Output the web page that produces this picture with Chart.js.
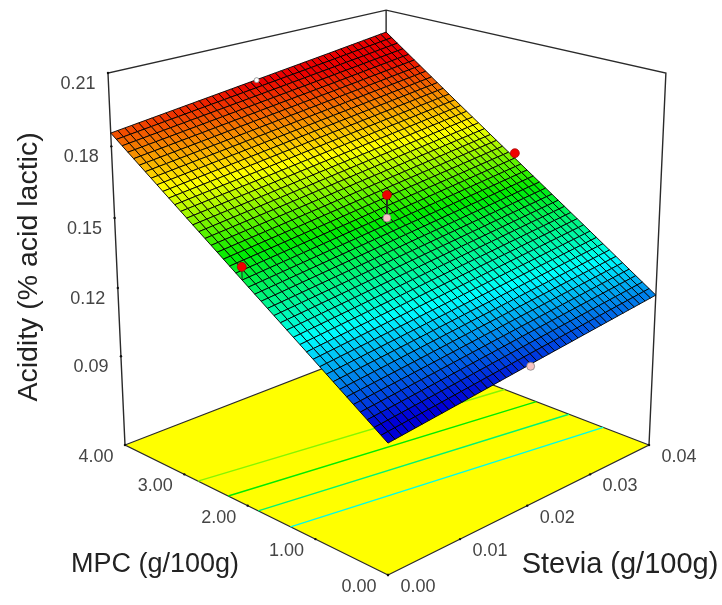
<!DOCTYPE html>
<html>
<head>
<meta charset="utf-8">
<title>Acidity response surface</title>
<style>
    html, body { margin: 0; padding: 0; background: #fff; }
    #surfaceChart { display: block; }
</style>
<script src="https://cdn.jsdelivr.net/npm/chart.js@4/dist/chart.umd.min.js"></script>
</head>
<body>
<canvas id="surfaceChart" width="722" height="605"></canvas>
<script>
// axis ticks
const steviaTicks = [0, 0.01, 0.02, 0.03, 0.04];
const mpcTicks = [0, 1, 2, 3, 4];
const acidityTicks = [0.09, 0.12, 0.15, 0.18, 0.21];

// acidity, one row per MPC tick, one value per stevia tick
const acidityAtMpc0 = [0.1028, 0.1063, 0.1099, 0.1134, 0.1169];
const acidityAtMpc1 = [0.1235, 0.1270, 0.1306, 0.1341, 0.1376];
const acidityAtMpc2 = [0.1441, 0.1476, 0.1512, 0.1547, 0.1582];
const acidityAtMpc3 = [0.1648, 0.1683, 0.1719, 0.1754, 0.1789];
const acidityAtMpc4 = [0.1855, 0.1891, 0.1927, 0.1963, 0.2000];
const acidityRows = [acidityAtMpc0, acidityAtMpc1, acidityAtMpc2, acidityAtMpc3, acidityAtMpc4];

// design points
const designStevia = [0.02, 0.04, 0.00, 0.02, 0.02, 0.02];
const designMpc = [2, 2, 2, 2, 0, 4];
const designAcidity = [0.1597, 0.1604, 0.1494, 0.1500, 0.1090, 0.1925];

// contours on the floor, MPC where each one meets stevia 0 and stevia 0.04
const contourLevels = [0.16, 0.15, 0.14, 0.13];
const contourMpcAtStevia0 = [2.78, 2.30, 1.84, 1.36];
const contourMpcAtStevia4 = [2.08, 1.60, 1.12, 0.63];

// colour ramp of the surface
const rampAcidity = [0.1065, 0.128, 0.150, 0.169, 0.192];
const rampColors = [[0, 0, 215], [0, 255, 255], [0, 235, 0], [255, 255, 0], [235, 0, 0]];

const zFloor = 0.05;
const zTop = 0.21;
const facetsPerTick = 11; // drawing subdivision of the 5x5 table above, not extra readings

// camera: where the box corners land on the page
const view = {
    front: [388, 575], right: [649, 445], left: [125, 445], up: [388, 155.3],
    a: 0.1436, c: -0.0695
};

function project(stevia, mpc, z) {
    let u = stevia / 0.04,
        v = mpc / 4,
        w = (z - zFloor) / (zTop - zFloor),
        h = 1 + view.a * (u + v) + view.c * w;

    function axis(i) {
        let o = view.front[i];
        return (o + (view.right[i] * (1 + view.a) - o) * u
            + (view.left[i] * (1 + view.a) - o) * v
            + (view.up[i] * (1 + view.c) - o) * w) / h;
    }

    return {x: axis(0), y: axis(1)};
}

function surfaceZ(stevia, mpc) {
    let fs = stevia / 0.01,
        fm = mpc,
        i = Math.min(Math.floor(fs), 3),
        j = Math.min(Math.floor(fm), 3),
        ts = fs - i,
        tm = fm - j;
    return (acidityRows[j][i] * (1 - ts) + acidityRows[j][i + 1] * ts) * (1 - tm)
        + (acidityRows[j + 1][i] * (1 - ts) + acidityRows[j + 1][i + 1] * ts) * tm;
}

function colorFor(z) {
    let k = 0;
    while (k < rampAcidity.length - 2 && z > rampAcidity[k + 1]) {
        k++;
    }
    let f = (z - rampAcidity[k]) / (rampAcidity[k + 1] - rampAcidity[k]);
    f = Math.max(0, Math.min(1, f));
    let c = [0, 1, 2].map(function (n) {
        return Math.round(rampColors[k][n] + (rampColors[k + 1][n] - rampColors[k][n]) * f);
    });
    return 'rgb(' + c.join(',') + ')';
}

function lineSet(points, color, width) {
    return {
        data: points,
        showLine: true,
        fill: false,
        borderColor: color,
        borderWidth: width,
        pointRadius: 0,
        tension: 0
    };
}

function buildDatasets() {
    let sets = [],
        edge = '#2a2a2a';

    // back walls
    sets.push(lineSet([project(0.04, 4, zFloor), project(0.04, 4, zTop)], edge, 1.4));
    sets.push(lineSet([project(0, 4, zFloor), project(0, 4, zTop), project(0.04, 4, zTop),
        project(0.04, 0, zTop), project(0.04, 0, zFloor)], edge, 1.4));

    // floor
    let floor = [project(0, 0, zFloor), project(0.04, 0, zFloor), project(0.04, 4, zFloor),
        project(0, 4, zFloor), project(0, 0, zFloor)];
    sets.push({
        data: floor,
        showLine: true,
        fill: 'shape',
        backgroundColor: '#ffff00',
        borderColor: edge,
        borderWidth: 1.2,
        pointRadius: 0
    });

    contourLevels.forEach(function (level, k) {
        sets.push(lineSet([project(0, contourMpcAtStevia0[k], zFloor),
            project(0.04, contourMpcAtStevia4[k], zFloor)], colorFor(level), 1.4));
    });

    // tick marks on the box
    let marks = [];
    acidityTicks.forEach(function (t) { marks.push(project(0, 4, t)); });
    mpcTicks.forEach(function (t) { marks.push(project(0, t, zFloor)); });
    steviaTicks.forEach(function (t) { marks.push(project(t, 0, zFloor)); });
    sets.push({data: marks, showLine: false, pointRadius: 1.2, backgroundColor: '#111', borderWidth: 0});

    // surface, far cells first
    let n = facetsPerTick * 4;
    for (let j = n - 1; j >= 0; j--) {
        for (let i = n - 1; i >= 0; i--) {
            let s0 = 0.04 * i / n, s1 = 0.04 * (i + 1) / n,
                m0 = 4 * j / n, m1 = 4 * (j + 1) / n,
                a = project(s0, m0, surfaceZ(s0, m0)),
                b = project(s1, m0, surfaceZ(s1, m0)),
                c = project(s1, m1, surfaceZ(s1, m1)),
                d = project(s0, m1, surfaceZ(s0, m1));
            sets.push({
                data: [a, b, c, d, a],
                showLine: true,
                fill: 'shape',
                backgroundColor: colorFor(surfaceZ((s0 + s1) / 2, (m0 + m1) / 2)),
                borderColor: 'rgba(0,0,0,0.9)',
                borderWidth: 1,
                pointRadius: 0
            });
        }
    }

    // design points and their stems
    designAcidity.forEach(function (z, k) {
        let s = designStevia[k],
            m = designMpc[k];
        sets.push(lineSet([project(s, m, z), project(s, m, surfaceZ(s, m))], '#222', 1));
    });
    designAcidity.forEach(function (z, k) {
        let s = designStevia[k],
            m = designMpc[k],
            above = z > surfaceZ(s, m);
        sets.push({
            data: [project(s, m, z)],
            showLine: false,
            pointRadius: k === 5 ? 2.5 : (above ? 4.5 : 4),
            backgroundColor: above ? '#f00000' : (k === 5 ? '#ffffff' : '#f7c3c3'),
            borderColor: above ? '#a00000' : '#777',
            borderWidth: 0.7
        });
    });

    // the library paints the first dataset on top
    return sets.reverse();
}

const axisText = {
    id: 'axisText',
    afterDraw: function (chart) {
        let ctx = chart.ctx,
            xs = chart.scales.x,
            ys = chart.scales.y;

        function put(p, dx, dy, text) {
            ctx.fillText(text, xs.getPixelForValue(p.x) + dx, ys.getPixelForValue(p.y) + dy);
        }

        ctx.save();
        ctx.textAlign = 'center';
        ctx.textBaseline = 'middle';
        ctx.fillStyle = '#454545';
        ctx.font = '18px "Liberation Sans"';
        acidityTicks.forEach(function (t) { put(project(0, 4, t), -30, 11, t.toFixed(2)); });
        mpcTicks.forEach(function (t) { put(project(0, t, zFloor), -29, 12, t.toFixed(2)); });
        steviaTicks.forEach(function (t) { put(project(t, 0, zFloor), 30, 12, t.toFixed(2)); });

        ctx.fillStyle = '#222';
        ctx.font = '27px "Liberation Sans"';
        ctx.fillText('MPC (g/100g)', 155, 565);
        ctx.font = '29px "Liberation Sans"';
        ctx.fillText('Stevia (g/100g)', 620, 565);
        ctx.translate(29, 267);
        ctx.rotate(-Math.PI / 2);
        ctx.font = '28.5px "Liberation Sans"';
        ctx.fillText('Acidity (% acid lactic)', 0, 0);
        ctx.restore();
    }
};

new Chart(document.getElementById('surfaceChart'), {
    type: 'scatter',
    data: {datasets: buildDatasets()},
    options: {
        responsive: false,
        animation: false,
        events: [],
        layout: {padding: 0, autoPadding: false},
        plugins: {legend: {display: false}, tooltip: {enabled: false}},
        scales: {
            x: {type: 'linear', min: 0, max: 722, display: false},
            y: {type: 'linear', min: 0, max: 605, reverse: true, display: false}
        }
    },
    plugins: [axisText]
});
</script>
</body>
</html>
